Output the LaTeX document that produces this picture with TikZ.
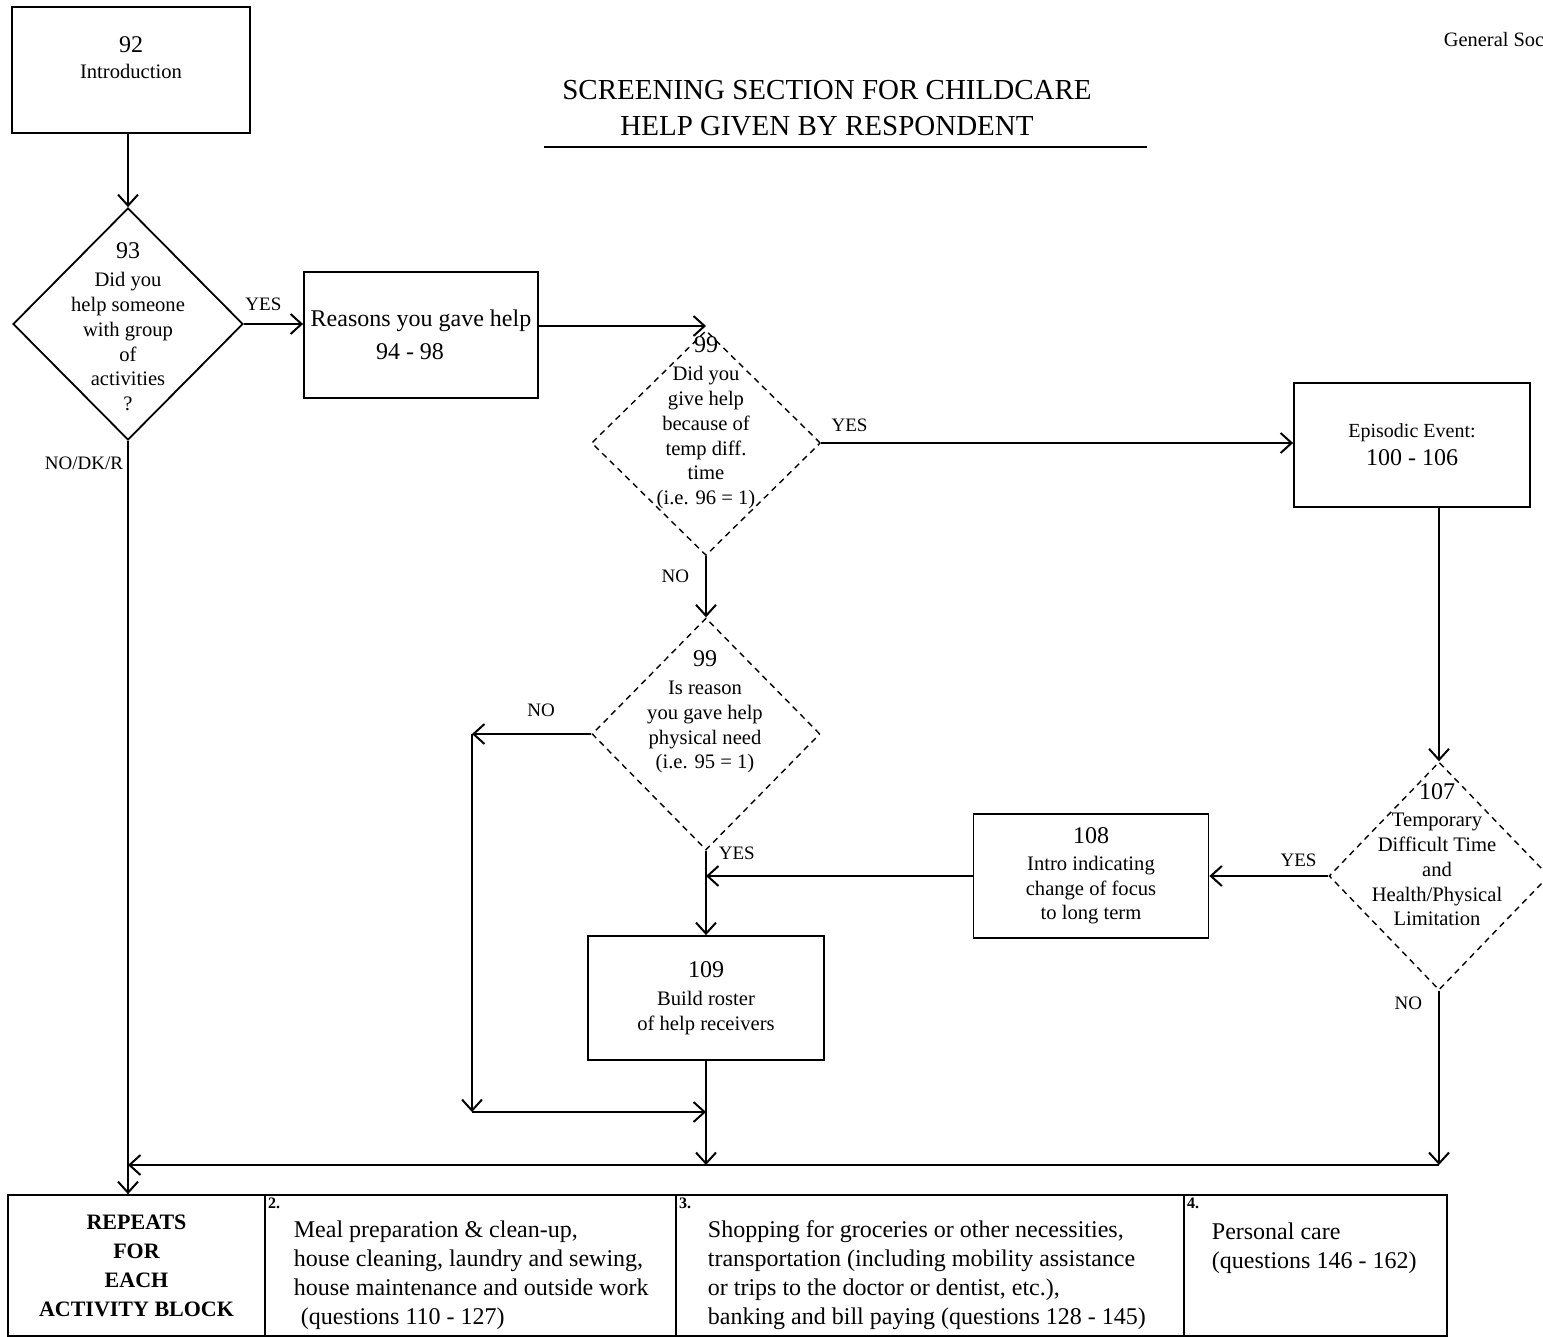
\documentclass[tikz,border=0pt]{standalone}
\usepackage{fontspec}
\setmainfont{Liberation Serif}
\usetikzlibrary{shapes,arrows.meta}
\tikzstyle{block} = [rectangle, draw, fill=white, align=center, inner sep=0pt,
    minimum width=118pt, minimum height=62pt, font=\fontsize{10.3}{12.4}\selectfont]
\tikzstyle{decision} = [diamond, draw, minimum width=115pt, minimum height=116pt, inner sep=0pt]
\tikzstyle{dashdecision} = [decision, line width=0.7pt, dash pattern=on 3pt off 2.4pt]
\tikzstyle{qtext} = [align=center, inner sep=0pt, font=\fontsize{10.3}{12.4}\selectfont]
\tikzstyle{line} = [draw, -{Straight Barb[length=5.5pt,width=10pt,line width=1pt]}]
\tikzstyle{lbl} = [inner sep=0pt, font=\fontsize{9.5}{11}\selectfont]
\tikzstyle{cell} = [rectangle, draw, inner sep=0pt, minimum height=70.5pt]
\tikzstyle{celltext} = [anchor=north west, align=left, inner sep=0pt,
    font=\fontsize{12}{14.5}\selectfont]
\tikzstyle{cellnum} = [anchor=north west, inner sep=1.5pt, font=\fontsize{8}{9}\selectfont\bfseries]
\newcommand{\qnum}[1]{{\fontsize{12}{14}\selectfont #1}}

\begin{document}
\begin{tikzpicture}[x=0.5pt, y=-0.5pt, line width=0.9pt]
\useasboundingbox (0,0) rectangle (1543,1337);
    % Place nodes
\node[lbl, anchor=west, font=\fontsize{10.2}{12}\selectfont] (header) at (1443,40) {General Soc};
\node[align=center, font=\fontsize{14.5}{18}\selectfont] (title) at (827,108)
    {SCREENING SECTION FOR CHILDCARE\\HELP GIVEN BY RESPONDENT};
\draw (544,147) -- (1147,147);

\node[block, minimum width=119pt, minimum height=63pt] (intro) at (131,70)
    {\qnum{92}\\[1pt]Introduction\\\mbox{}};
\node[decision] (q93) at (128,324) {};
\node[qtext] (q93text) at (128,327)
    {\qnum{93}\\[1.5pt]Did you\\help someone\\with group\\of\\activities\\?};
\node[block, minimum width=117pt, minimum height=63pt, font=\fontsize{12}{16.5}\selectfont]
    (reasons) at (421,335) {Reasons you gave help\\\hspace*{-11pt}94 - 98};
\node[dashdecision, minimum width=114.5pt, minimum height=112.5pt] (q99a) at (706,443) {};
\node[qtext] (q99atext) at (706,423)
    {\qnum{99}\\[1.5pt]Did you\\give help\\because of\\temp diff.\\time\\(i.e. 96 = 1)};
\node[block] (episodic) at (1412,445)
    {\fontsize{10}{12}\selectfont Episodic Event:\\[1.5pt]\qnum{100 - 106}};
\node[dashdecision, minimum width=114pt] (q99b) at (706,734) {};
\node[qtext] (q99btext) at (705,712)
    {\qnum{99}\\[1.5pt]Is reason\\you gave help\\physical need\\(i.e. 95 = 1)};
\node[dashdecision, minimum width=110pt, minimum height=114pt] (q107) at (1439,876) {};
\node[qtext] (q107text) at (1437,855)
    {\qnum{107}\\[1pt]Temporary\\Difficult Time\\and\\Health/Physical\\Limitation};
\node[block, minimum width=117.5pt] (focus) at (1091,876)
    {\qnum{108}\\[1pt]Intro indicating\\change of focus\\to long term};
\node[block] (roster) at (706,998) {\qnum{109}\\[1.5pt]Build roster\\of help receivers};

\coordinate (loopa) at (472,734);
\coordinate (loopb) at (472,1112);
\coordinate (busL) at (128,1165);
\coordinate (busR) at (1439,1165);

\node[cell, minimum width=128.5pt, align=center, font=\fontsize{11}{14.5}\selectfont\bfseries]
    (repeats) at (136.5,1265.5) {REPEATS\\FOR\\EACH\\ACTIVITY BLOCK};
\node[cell, minimum width=205.5pt] (meal) at (470.5,1265.5) {};
\node[cell, minimum width=254pt] (shop) at (930,1265.5) {};
\node[cell, minimum width=131.5pt] (care) at (1315.5,1265.5) {};
\node[cellnum] (mealnum) at (meal.north west) {2.};
\node[cellnum] (shopnum) at (shop.north west) {3.};
\node[cellnum] (carenum) at (care.north west) {4.};
\node[celltext] (mealtext) at (293,1220) {Meal preparation \& clean-up,\\house cleaning, laundry and sewing,\\house maintenance and outside work\\\hspace*{3.5pt}(questions 110 - 127)};
\node[celltext] (shoptext) at (707,1220) {Shopping for groceries or other necessities,\\transportation (including mobility assistance\\or trips to the doctor or dentist, etc.),\\banking and bill paying (questions 128 - 145)};
\node[celltext] (caretext) at (1211,1222) {Personal care\\(questions 146 - 162)};

    % Draw edges
\path [line] (q93.north |- intro.south) -- (q93.north);
\path [line] (q93.east) -- node[lbl, above=6pt, pos=0.33] {YES} (q93.east -| reasons.west);
\path [line] ([yshift=4.5pt]reasons.east) -- ([yshift=4.5pt]reasons.east -| q99a.north);
\path [line] (q99a.east) -- node[lbl, above=5pt, pos=0.06] {YES} (q99a.east -| episodic.west);
\path [line] (q99a.south) -- node[lbl, left=8pt, pos=0.33] {NO} (q99b.north);
\path [line] (q99b.west) -- node[lbl, above=8pt, pos=0.42] {NO} (loopa);
\path [line] (loopa) -- (loopb);
\path [line] (loopb) -- (loopb -| roster.south);
\path [line] (q99b.south) -- node[lbl, right=6pt, pos=0.03] {YES} (roster.north);
\path [line] (focus.west) -- (focus.west -| roster.north);
\path [line] (q107.west) -- node[lbl, above=4pt, pos=0.25] {YES} (focus.east);
\path [line] (episodic.south -| q107.north) -- (q107.north);
\path [line] (q107.south) -- node[lbl, left=8pt, pos=0.07] {NO} (q107.south |- busR);
\path [line] (roster.south) -- (roster.south |- busL);
\path [line] (busR) -- (busL);
\path [line] (q93.south) -- node[lbl, left=2pt, pos=0.03] {NO/DK/R} (q93.south |- repeats.north);

\end{tikzpicture}
\end{document}
